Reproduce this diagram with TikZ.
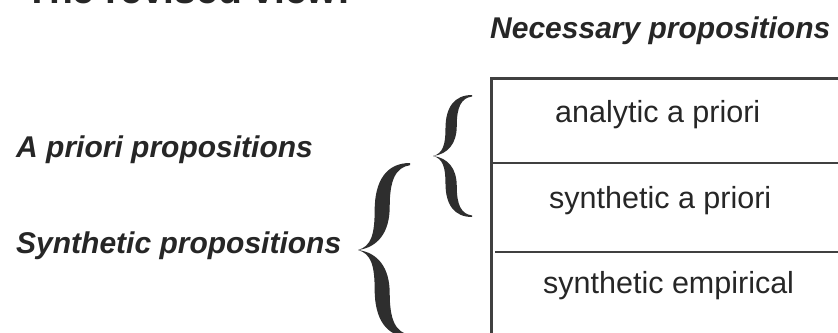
\documentclass[tikz,border=0pt]{standalone}
\usepackage{fontspec}
\setmainfont{Liberation Sans}
\begin{document}
\begin{tikzpicture}[x=1pt,y=1pt,
  txt/.style={inner sep=0pt, anchor=base west, text=black!85},
  lbl/.style={txt, font=\fontsize{30}{36}\selectfont\bfseries\itshape},
  cell/.style={txt, font=\fontsize{30.5}{36}\selectfont},
  rule/.style={draw=black!75, line width=2.4pt},
  bracefill/.style={fill=black!82, draw=none}]
\useasboundingbox (0,0) rectangle (838,-332);
\clip (0,0) rectangle (838,-332);
% title (cut off at the top)
\node[txt, font=\fontsize{39}{44}\selectfont\bfseries] (title) at (25,-3) {The revised view:};
% column heading
\node[lbl] (nec) at (490,-38) {Necessary propositions};
% left labels
\node[lbl] (apriori) at (16,-157) {A priori propositions};
\node[lbl] (synth) at (16,-253) {Synthetic propositions};
% table
\coordinate (tl) at (491.5,-78.5);
\coordinate (tr) at (850,-78.5);
\coordinate (bl) at (491.5,-345);
\coordinate (d1l) at (491.5,-163);
\coordinate (d1r) at (850,-163);
\coordinate (d2l) at (495,-252);
\coordinate (d2r) at (850,-252);
\draw[rule] (tr) -- (tl) -- (bl);
\draw[rule] (d1l) -- (d1r);
\draw[rule] (d2l) -- (d2r);
\node[cell] (c1) at (555,-122) {analytic a priori};
\node[cell] (c2) at (549,-208) {synthetic a priori};
\node[cell] (c3) at (543,-293) {synthetic empirical};
% braces: unit arm with tip at origin and end at (1,1)
\foreach \sx/\sy/\tx/\ty in {39/61/433/156, 52/87/358/250}{
  \foreach \f in {1,-1}{
    \begin{scope}[shift={(\tx,-\ty)}, xscale=\sx, yscale=\f*\sy]
      \path[bracefill] (0,0) .. controls (0.25,0.04) and (0.32,0.18) .. (0.32,0.45)
        .. controls (0.32,0.8) and (0.55,1.0) .. (1,1)
        -- (1,0.975)
        .. controls (0.72,0.95) and (0.61,0.8) .. (0.61,0.5)
        .. controls (0.61,0.2) and (0.38,0.03) .. (0,0) -- cycle;
    \end{scope}
  }
}
\end{tikzpicture}
\end{document}
